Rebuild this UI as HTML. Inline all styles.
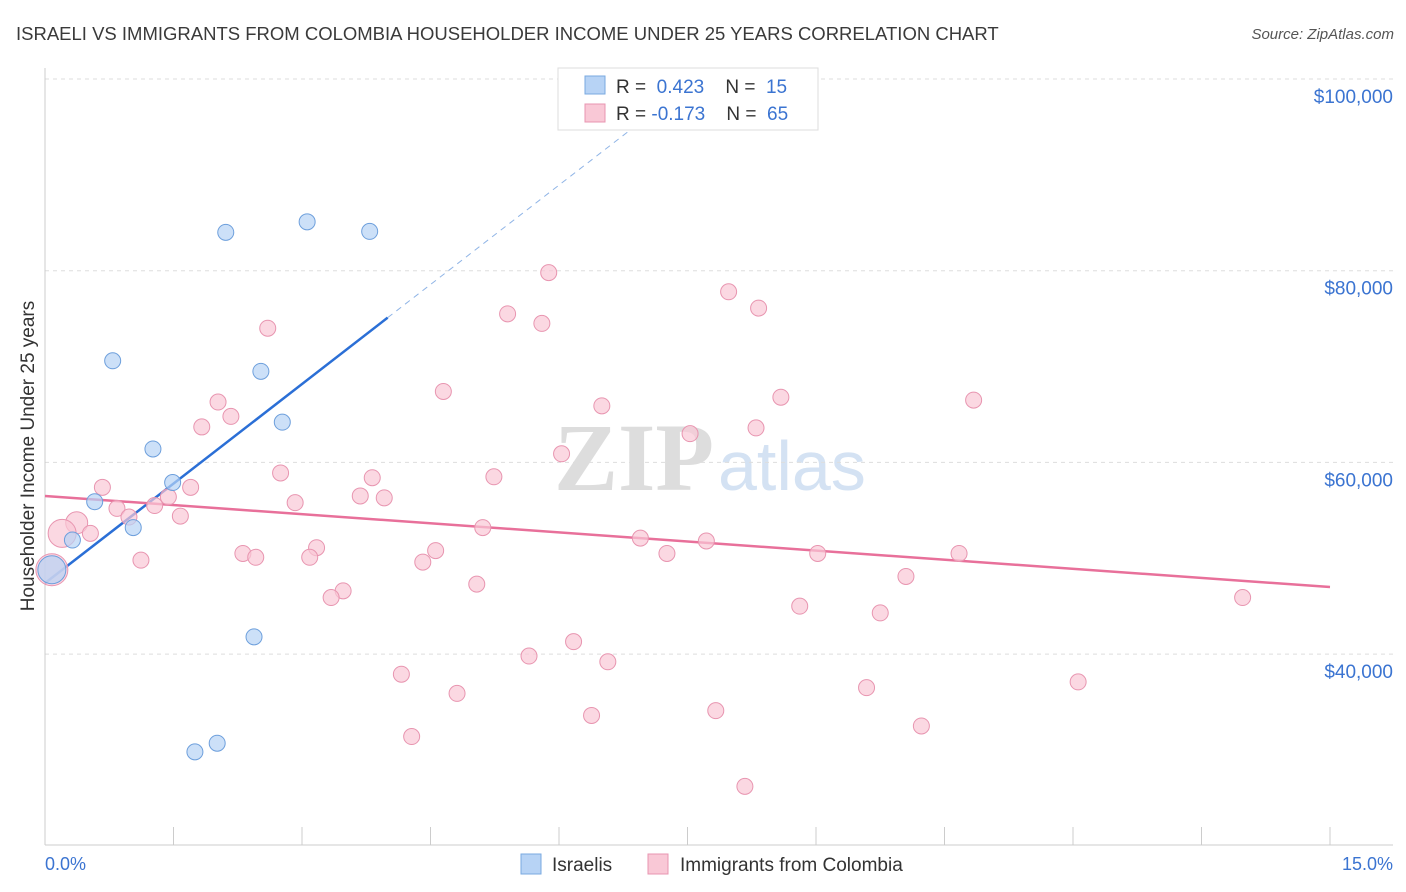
<!DOCTYPE html>
<html><head><meta charset="utf-8"><style>
body{margin:0;background:#fff;font-family:"Liberation Sans",sans-serif}
svg{display:block}
</style></head><body>
<svg id="chart" width="1406" height="892">
<text x="16" y="40" font-size="18.5" fill="#3a3a3a">ISRAELI VS IMMIGRANTS FROM COLOMBIA HOUSEHOLDER INCOME UNDER 25 YEARS CORRELATION CHART</text>
<text x="1394" y="39" font-size="15" fill="#555" text-anchor="end" font-style="italic">Source: ZipAtlas.com</text>
<text x="714" y="490" font-size="96" fill="#ddd" text-anchor="end" font-family="Liberation Serif,serif" font-weight="bold">ZIP</text>
<text x="718" y="490" font-size="70" fill="#d4e2f3">atlas</text>
<g id="grid"></g><g id="axes"></g><g id="lines"></g><g id="pts"></g>
<text transform="translate(34,456) rotate(-90)" font-size="19" fill="#333" text-anchor="middle">Householder Income Under 25 years</text>
<text x="45" y="870" font-size="18" fill="#3b74d1">0.0%</text>
<text x="1393" y="870" font-size="18" fill="#3b74d1" text-anchor="end">15.0%</text>
<g>
<rect x="558" y="68" width="260" height="62" fill="#fff" stroke="#ddd"/>
<rect x="585" y="76" width="20" height="18" fill="#b7d3f5" stroke="#7aa9e0"/>
<rect x="585" y="104" width="20" height="18" fill="#f9c8d6" stroke="#e895b0"/>
<text x="616" y="93" font-size="19" fill="#333">R = <tspan fill="#3b74d1">&#160;0.423</tspan>&#160;&#160;&#160; N = <tspan fill="#3b74d1">&#160;15</tspan></text>
<text x="616" y="120" font-size="19" fill="#333">R = <tspan fill="#3b74d1">-0.173</tspan>&#160;&#160;&#160; N = <tspan fill="#3b74d1">&#160;65</tspan></text>
</g>
<g>
<rect x="521" y="854" width="20" height="20" fill="#b7d3f5" stroke="#7aa9e0"/>
<text x="552" y="871" font-size="19" fill="#333">Israelis</text>
<rect x="648" y="854" width="20" height="20" fill="#f9c8d6" stroke="#e895b0"/>
<text x="680" y="871" font-size="19" fill="#333">Immigrants from Colombia</text>
</g>
</svg>
<script>
const yTicks=[100000,80000,60000,40000];
const yTickLabels=["$100,000","$80,000","$60,000","$40,000"];
const xTicks=[0,1.5,3,4.5,6,7.5,9,10.5,12,13.5,15];
const blueX=[2.11,3.06,3.79,0.79,2.52,2.77,1.26,1.49,0.58,1.03,0.32,0.08,2.44,1.75,2.01];
const blueY=[84000,85100,84100,70600,69500,64200,61400,57900,55900,53200,51900,48800,41800,29800,30700];
const blueR=[8,8,8,8,8,8,8,8,8,8,8,14,8,8,8];
const pinkX=[5.88,7.98,8.33,5.40,5.80,2.60,4.65,8.59,10.84,2.02,6.50,2.17,1.83,8.30,7.53,6.03,2.75,3.82,5.24,0.67,1.70,3.68,3.96,1.44,2.92,1.28,0.84,0.98,1.58,0.37,0.53,0.20,5.11,6.95,7.72,3.17,4.56,2.31,2.46,7.26,9.02,10.67,3.09,1.12,4.41,0.08,10.05,5.04,3.48,3.34,13.98,8.81,9.75,6.17,5.65,6.57,4.16,4.81,9.59,12.06,7.83,6.38,10.23,4.28,8.17];
const pinkY=[79800,77800,76100,75500,74500,74000,67400,66800,66500,66300,65900,64800,63700,63600,63000,60900,58900,58400,58500,57400,57400,56500,56300,56400,55800,55500,55200,54300,54400,53700,52600,52600,53200,52100,51800,51100,50800,50500,50100,50500,50500,50500,50100,49800,49600,48800,48100,47300,46600,45900,45900,45000,44300,41300,39800,39200,37900,35900,36500,37100,34100,33600,32500,31400,26200];
const pinkBig={29:11,31:14,45:16};
const blueLine=[[0,47400],[4.0,75100]];
const blueDash=[[4.0,75100],[6.95,95500]];
const pinkLine=[[0,56500],[15,47000]];
const NS="http://www.w3.org/2000/svg";
const X=v=>45+v*(1285/15);
const Y=v=>79+(100000-v)*191.7/20000;
function mk(tag,at,parent){const e=document.createElementNS(NS,tag);for(const k in at)e.setAttribute(k,at[k]);document.getElementById(parent).appendChild(e);return e;}
yTicks.forEach((t,i)=>{
 const l=mk('line',{x1:45,x2:1393,y1:Y(t),y2:Y(t),stroke:'#ddd','stroke-dasharray':'4,4'},'grid');
 
 
 const tx=mk('text',{x:1393,y:Y(t)+24,'font-size':19,fill:'#3b74d1','text-anchor':'end'},'grid');
 tx.textContent=yTickLabels[i];
 
 
});
let a=mk('line',{x1:45,x2:45,y1:68,y2:845,stroke:'#ccc'},'axes');


a=mk('line',{x1:45,x2:1393,y1:845,y2:845,stroke:'#ccc'},'axes');


xTicks.forEach(t=>{
 const l=mk('line',{x1:X(t),x2:X(t),y1:827,y2:845,stroke:'#ccc'},'axes');
 
 
});
function line(p,st,dash,name){
 const l=mk('line',{x1:X(p[0][0]),y1:Y(p[0][1]),x2:X(p[1][0]),y2:Y(p[1][1]),stroke:st,'stroke-width':dash?1:2.5,'stroke-dasharray':dash?'6,5':'none'},'lines');
 
 
}
line(blueLine,'#2b6fd6',false,'israelis-trend-line');
line(blueDash,'#8fb4e6',true,'israelis-trend-extension');
line(pinkLine,'#e8709a',false,'colombia-trend-line');
pinkX.forEach((x,i)=>{
 const c=mk('circle',{cx:X(x),cy:Y(pinkY[i]),r:pinkBig[i]||8,fill:'#f9c8d6','fill-opacity':0.7,stroke:'#e895b0','stroke-width':1},'pts');
 
 
});
blueX.forEach((x,i)=>{
 const c=mk('circle',{cx:X(x),cy:Y(blueY[i]),r:blueR[i],fill:'#b7d3f5','fill-opacity':0.7,stroke:'#6d9fdc','stroke-width':1},'pts');
 
 
});
</script>
</body></html>
